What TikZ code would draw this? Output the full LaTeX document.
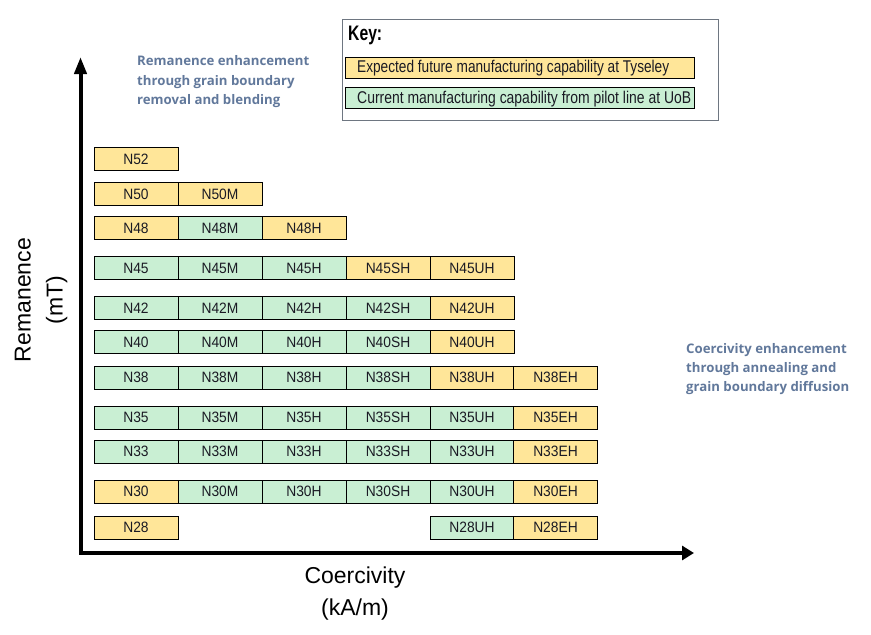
\documentclass[tikz,border=0pt]{standalone}
\usepackage{fontspec}
\setmainfont{Liberation Sans}
\newfontfamily\notefont{Open Sans}
\usepackage{graphicx}
\usetikzlibrary{arrows.meta}
\definecolor{fut}{HTML}{FFE699}
\definecolor{cur}{HTML}{C9EFD3}
\definecolor{note}{HTML}{61789B}
\definecolor{keyframe}{HTML}{6E7681}
\definecolor{celltext}{HTML}{1A1A24}
\begin{document}
\begin{tikzpicture}[x=1pt,y=-1pt,
  cell/.style={draw=black, line width=0.8pt, minimum width=84pt, minimum height=23pt,
    inner sep=0pt, text=celltext, font=\fontsize{15}{15}\selectfont},
  keyentry/.style={draw=black, line width=0.8pt, minimum width=349pt, minimum height=20.5pt,
    inner sep=0pt, anchor=north west},
  keytext/.style={anchor=base west, inner sep=0pt, text=celltext, font=\fontsize{17}{17}\selectfont},
  notetext/.style={anchor=north west, align=left, inner sep=0pt, text=note,
    font=\notefont\bfseries\fontsize{13.2}{19.3}\selectfont},
  axislabel/.style={align=center, inner sep=0pt, font=\fontsize{23}{32}\selectfont},
  axisline/.style={line width=4pt, line join=miter}
]
\useasboundingbox (0,0) rectangle (871,635);

% key
\node[draw=keyframe, line width=1.2pt, minimum width=376pt, minimum height=101pt,
  inner sep=0pt, anchor=north west] (key) at (342,19) {};
\node[anchor=base west, inner sep=0pt, font=\bfseries\fontsize{21}{21}\selectfont] (keylbl)
  at (348,40.7) {\resizebox{34pt}{\height}{Key:}};
\node[keyentry, fill=fut] (kfut) at (345,57) {};
\node[keytext] (kfuttxt) at (357,72.3) {\resizebox{312pt}{\height}{Expected future manufacturing capability at Tyseley}};
\node[keyentry, fill=cur] (kcur) at (345,87) {};
\node[keytext] (kcurtxt) at (357,103) {\resizebox{334pt}{\height}{Current manufacturing capability from pilot line at UoB}};

% notes
\node[notetext] (remnote) at (137,55.5) {Remanence enhancement\\through grain boundary\\removal and blending};
\node[notetext] (coernote) at (686,343) {Coercivity enhancement\\through annealing and\\grain boundary diffusion};

% cells
\foreach \n/\x/\y/\c in {
  N52/136/159/fut,
  N50/136/194/fut, N50M/220/194/fut,
  N48/136/228/fut, N48M/220/228/cur, N48H/304/228/fut,
  N45/136/268/cur, N45M/220/268/cur, N45H/304/268/cur, N45SH/388/268/fut, N45UH/472/268/fut,
  N42/136/308/cur, N42M/220/308/cur, N42H/304/308/cur, N42SH/388/308/cur, N42UH/472/308/fut,
  N40/136/342/cur, N40M/220/342/cur, N40H/304/342/cur, N40SH/388/342/cur, N40UH/472/342/fut,
  N38/136/377.5/cur, N38M/220/377.5/cur, N38H/304/377.5/cur, N38SH/388/377.5/cur, N38UH/472/377.5/fut, N38EH/555.5/377.5/fut,
  N35/136/417.5/cur, N35M/220/417.5/cur, N35H/304/417.5/cur, N35SH/388/417.5/cur, N35UH/472/417.5/cur, N35EH/555.5/417.5/fut,
  N33/136/451.5/cur, N33M/220/451.5/cur, N33H/304/451.5/cur, N33SH/388/451.5/cur, N33UH/472/451.5/cur, N33EH/555.5/451.5/fut,
  N30/136/491.5/fut, N30M/220/491.5/cur, N30H/304/491.5/cur, N30SH/388/491.5/cur, N30UH/472/491.5/cur, N30EH/555.5/491.5/fut,
  N28/136/527.5/fut, N28UH/472/527.5/cur, N28EH/555.5/527.5/fut}
{
  \node[cell, fill=\c] (\n) at (\x,\y) {\scalebox{0.92}[1]{\n}};
}

% axes
\coordinate (ytop) at (80.5,57);
\coordinate (corner) at (80.5,553);
\coordinate (xend) at (694,553);
\draw[axisline, {Triangle[length=17pt,width=12pt]}-{Triangle[length=12pt,width=14pt]}]
  (ytop) -- (corner) -- (xend);

\node[axislabel, rotate=90] (ylbl) at (41,300) {Remanence\\(mT)};
\node[axislabel] (xlbl) at (355,594) {Coercivity\\(kA/m)};
\end{tikzpicture}
\end{document}
